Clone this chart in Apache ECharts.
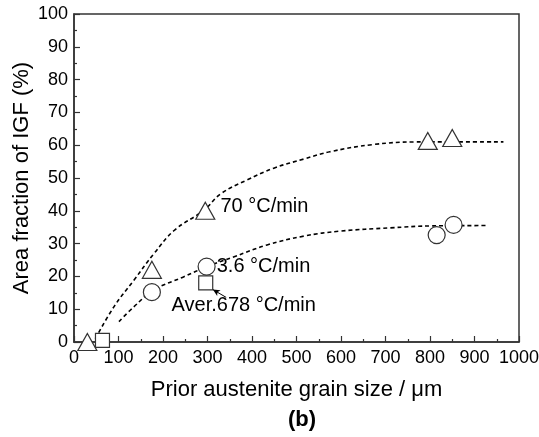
<!DOCTYPE html>
<html>
<head>
<meta charset="utf-8">
<script src="https://cdn.jsdelivr.net/npm/echarts@6/dist/echarts.min.js"></script>
<style>html,body{margin:0;padding:0;background:#fff}#c{width:539px;height:437px}</style>
</head>
<body>
<div id="c"></div>
<script>
// ---- data ----
const xTicks = [0, 100, 200, 300, 400, 500, 600, 700, 800, 900, 1000];
const yTicks = [0, 10, 20, 30, 40, 50, 60, 70, 80, 90, 100];

const fastName = '70 °C/min';
const fastX = [30, 175, 295, 795, 850];
const fastY = [0, 22, 40, 61.3, 62.2];
const fastLabelIndex = 2;

const slowName = '3.6 °C/min';
const slowX = [175, 298, 815, 853];
const slowY = [15.2, 23, 32.6, 35.7];
const slowLabelIndex = 1;

const avgName = 'Aver.678 °C/min';
const avgX = [64, 296];
const avgY = [0.5, 18];
const avgLabelIndex = 1;

// dashed fit curves as traced on the picture
const fitFastX = [48, 90, 135, 180, 225, 292, 330, 389, 449, 517, 575, 672, 770, 965];
const fitFastY = [1, 10.8, 18.9, 27, 34, 40.2, 45.2, 49.4, 53, 55.8, 58, 60.2, 61, 61];
const fitSlowX = [101, 135, 180, 247, 299, 360, 434, 517, 598, 710, 807, 930];
const fitSlowY = [6.2, 10.8, 15.9, 19.9, 23, 26, 29.6, 32.3, 33.8, 34.8, 35.4, 35.5];

// annotation arrow (data coordinates)
const arrowFrom = [342, 13.6];
const arrowTo = [312, 16];

const xTitle = 'Prior austenite grain size / μm';
const yTitle = 'Area fraction of IGF (%)';
const panel = '(b)';

// ---- chart ----
const FONT = "'Liberation Sans', Arial, Helvetica, sans-serif";
const zip = (a, b) => a.map((v, i) => [v, b[i]]);
const markerStyle = { color: '#fff', borderColor: '#333', borderWidth: 1.2, opacity: 1 };
const labelStyle = { fontFamily: FONT, fontSize: 20, color: '#000' };

function points(xs, ys, labelIdx, labelOpt) {
  return xs.map((x, i) => {
    const d = { value: [x, ys[i]] };
    if (i === labelIdx) d.label = Object.assign({ show: true }, labelStyle, labelOpt);
    return d;
  });
}

const fastData = points(fastX, fastY, fastLabelIndex, { formatter: fastName, position: 'right', distance: 5, offset: [0, -4] });
const slowData = points(slowX, slowY, slowLabelIndex, { formatter: slowName, position: 'right', distance: 1, offset: [0, 0] });
const avgData = points(avgX, avgY, avgLabelIndex, { formatter: avgName, position: 'bottom', distance: 5, offset: [38, 0] });

const chart = echarts.init(document.getElementById('c'), null, { renderer: 'canvas' });
chart.setOption({
  animation: false,
  backgroundColor: '#fff',
  textStyle: { fontFamily: FONT },
  title: {
    text: panel, left: 297, top: 404, textAlign: 'center',
    textStyle: { fontFamily: FONT, fontSize: 22, fontWeight: 'bold', color: '#000' }
  },
  grid: { left: 74, top: 14, right: 20, bottom: 95, containLabel: false, outerBoundsMode: 'none',
    show: true, borderColor: '#333', borderWidth: 1.5, backgroundColor: 'transparent' },
  xAxis: {
    type: 'value', min: xTicks[0], max: xTicks[xTicks.length - 1], interval: 100,
    name: xTitle, nameLocation: 'middle', nameGap: 37, nameMoveOverlap: false,
    nameTextStyle: { fontFamily: FONT, fontSize: 22, color: '#000' },
    axisLine: { show: true, lineStyle: { color: '#333', width: 1.5 } },
    axisTick: { show: true, inside: true, length: 6, lineStyle: { color: '#333', width: 1.2 } },
    minorTick: { show: true, splitNumber: 2, length: 3, lineStyle: { color: '#333', width: 1.2 } },
    axisLabel: { fontFamily: FONT, fontSize: 18, color: '#000', margin: 7, formatter: v => String(v) },
    splitLine: { show: false }
  },
  yAxis: {
    type: 'value', min: yTicks[0], max: yTicks[yTicks.length - 1], interval: 10,
    name: yTitle, nameLocation: 'middle', nameGap: 41, nameRotate: 90, nameMoveOverlap: false,
    nameTextStyle: { fontFamily: FONT, fontSize: 22, color: '#000' },
    axisLine: { show: true, lineStyle: { color: '#333', width: 1.5 } },
    axisTick: { show: true, inside: true, length: 6, lineStyle: { color: '#333', width: 1.2 } },
    minorTick: { show: true, splitNumber: 2, length: 3, lineStyle: { color: '#333', width: 1.2 } },
    axisLabel: { fontFamily: FONT, fontSize: 18, color: '#000', margin: 6, formatter: v => String(v) },
    splitLine: { show: false }
  },
  series: [
    { type: 'line', data: zip(fitFastX, fitFastY), smooth: 0.4, showSymbol: false, symbol: 'none', clip: false,
      lineStyle: { color: '#000', width: 1.6, type: [4, 3] }, z: 2, silent: true },
    { type: 'line', data: zip(fitSlowX, fitSlowY), smooth: 0.4, showSymbol: false, symbol: 'none', clip: false,
      lineStyle: { color: '#000', width: 1.6, type: [4, 3] }, z: 2, silent: true },
    { type: 'scatter', name: fastName, data: fastData, symbol: 'triangle', symbolSize: [19, 17], clip: false,
      itemStyle: markerStyle, z: 5 },
    { type: 'scatter', name: slowName, data: slowData, symbol: 'circle', symbolSize: 17, clip: false,
      itemStyle: markerStyle, z: 5 },
    { type: 'scatter', name: avgName, data: avgData, symbol: 'rect', symbolSize: 14, clip: false,
      itemStyle: markerStyle, z: 5,
      markLine: {
        silent: true, symbol: ['none', 'arrow'], symbolSize: [5, 7],
        label: { show: false },
        lineStyle: { color: '#000', width: 1, type: 'solid' },
        data: [[{ coord: arrowFrom }, { coord: arrowTo }]]
      } }
  ]
});
</script>
</body>
</html>
